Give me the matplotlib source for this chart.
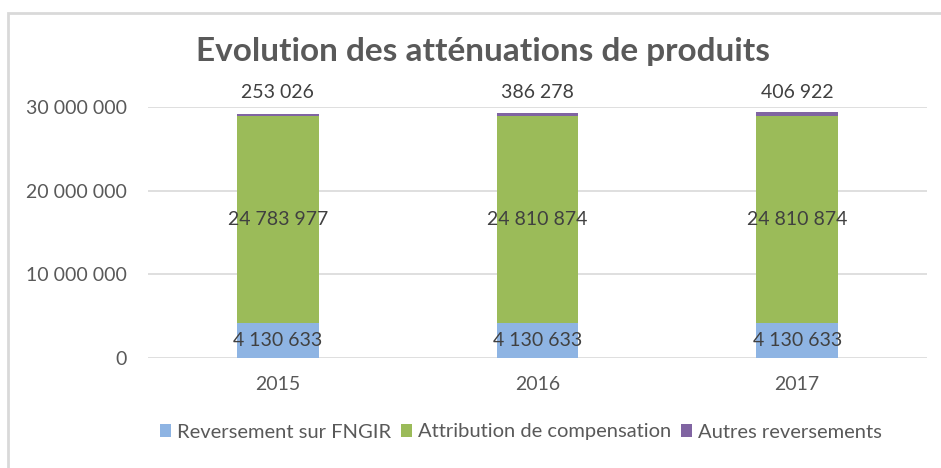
import matplotlib.pyplot as plt
from matplotlib.patches import Rectangle

years = ['2015', '2016', '2017']
fngir = [4130633, 4130633, 4130633]
attribution = [24783977, 24810874, 24810874]
autres = [253026, 386278, 406922]
series_names = ['Reversement sur FNGIR', 'Attribution de compensation', 'Autres reversements']
colors = ['#8EB4E3', '#9BBB59', '#8064A2']
text_col = '#595959'

plt.rcParams['font.family'] = ['Lato', 'DejaVu Sans']


def fmt(v):
    return f'{v:,}'.replace(',', ' ')


fig = plt.figure(figsize=(9.41, 4.68), dpi=100)
ax = fig.add_axes([148 / 941, 1 - 358 / 468, 779 / 941, 251 / 468])

x = range(len(years))
w = 0.315
b1 = ax.bar(x, fngir, w, color=colors[0], label=series_names[0], zorder=2)
b2 = ax.bar(x, attribution, w, bottom=fngir, color=colors[1], label=series_names[1], zorder=2)
bottoms = [a + b for a, b in zip(fngir, attribution)]
b3 = ax.bar(x, autres, w, bottom=bottoms, color=colors[2], label=series_names[2], zorder=2)

for i in x:
    ax.text(i, fngir[i] / 2, fmt(fngir[i]), ha='center', va='center', fontsize=14, color='#404040')
    ax.text(i, fngir[i] + attribution[i] / 2, fmt(attribution[i]), ha='center', va='center',
            fontsize=14, color='#404040')
    ax.text(i, 31700000, fmt(autres[i]), ha='center', va='center', fontsize=14, color='#404040',
            clip_on=False)

ax.set_xlim(-0.5, 2.5)
ax.set_ylim(0, 30000000)
ax.set_yticks([0, 10000000, 20000000, 30000000])
ax.set_yticklabels([fmt(v) for v in [0, 10000000, 20000000, 30000000]])
ax.set_xticks(list(x))
ax.set_xticklabels(years)
ax.tick_params(axis='both', length=0, labelsize=14, colors=text_col)
ax.tick_params(axis='y', pad=15)
ax.tick_params(axis='x', pad=13)
ax.grid(axis='y', color='#D9D9D9', linewidth=1.2, zorder=0)
for s in ax.spines.values():
    s.set_visible(False)

fig.text(483 / 941, 1 - 52 / 468, 'Evolution des atténuations de produits', ha='center', va='center',
         fontsize=24, fontweight='bold', color=text_col)

fig.legend(handles=[b1, b2, b3], loc='center', bbox_to_anchor=(521 / 941, 1 - 432 / 468), ncol=3,
           frameon=False, fontsize=14.5, labelcolor=text_col, handlelength=0.55, handleheight=0.6,
           handletextpad=0.3, columnspacing=0.5)

fig.add_artist(Rectangle((8 / 941, -0.1), 1.1, (1 - 13 / 468) + 0.1, transform=fig.transFigure,
                         fill=False, edgecolor='#D9D9D9', linewidth=2))

fig.savefig('out.png', dpi=100)
